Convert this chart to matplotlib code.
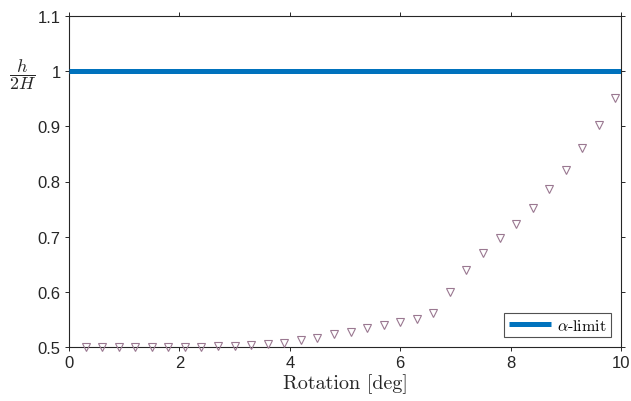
import numpy as np
import matplotlib
matplotlib.use("Agg")
import matplotlib.pyplot as plt

plt.rcParams["font.family"] = ["Liberation Sans", "DejaVu Sans"]
plt.rcParams["mathtext.fontset"] = "cm"

# data
rotation = np.array([0.3, 0.6, 0.9, 1.2, 1.5, 1.8, 2.1, 2.4, 2.7, 3.0, 3.3,
                     3.6, 3.9, 4.2, 4.5, 4.8, 5.1, 5.4, 5.7, 6.0, 6.3, 6.6,
                     6.9, 7.2, 7.5, 7.8, 8.1, 8.4, 8.7, 9.0, 9.3, 9.6, 9.9])
ratio = np.array([0.500, 0.500, 0.500, 0.500, 0.500, 0.500, 0.500, 0.500,
                  0.501, 0.502, 0.503, 0.505, 0.508, 0.512, 0.517, 0.523,
                  0.528, 0.535, 0.540, 0.545, 0.550, 0.562, 0.600, 0.640,
                  0.670, 0.697, 0.723, 0.752, 0.786, 0.820, 0.860, 0.902,
                  0.952])
limit_x = [0, 10]
limit_y = [1.0, 1.0]

xticks = [0, 2, 4, 6, 8, 10]
yticks = [0.5, 0.6, 0.7, 0.8, 0.9, 1.0, 1.1]
yticklabels = ["0.5", "0.6", "0.7", "0.8", "0.9", "1", "1.1"]

C_LINE = "#0072BD"
C_MARK = "#9a7891"
C_AX = "#262626"

fig = plt.figure(figsize=(6.31, 4.02), dpi=100)
ax = fig.add_axes([69 / 631, 54 / 402, 552 / 631, 331 / 402])

ax.plot(limit_x, limit_y, color=C_LINE, linewidth=3.6, label=r"$\alpha$-limit",
        solid_capstyle="butt", zorder=3)
ax.plot(rotation, ratio, linestyle="none", marker="v", markersize=6,
        markerfacecolor="none", markeredgecolor=C_MARK, markeredgewidth=0.8,
        clip_on=False, zorder=4)

ax.set_xlim(0, 10)
ax.set_ylim(0.5, 1.1)
ax.set_xticks(xticks)
ax.set_xticklabels([str(t) for t in xticks])
ax.set_yticks(yticks)
ax.set_yticklabels(yticklabels)

ax.tick_params(direction="out", length=3, width=0.7, colors=C_AX, labelsize=12,
               top=True, right=True, labeltop=False, labelright=False, pad=3)
for s in ax.spines.values():
    s.set_color(C_AX)
    s.set_linewidth(0.8)

ax.set_xlabel("Rotation [deg]", fontfamily="cmr10", fontsize=14.5, color=C_AX,
              labelpad=2)
fig.text(22 / 631, 1 - 75 / 402, r"$\dfrac{h}{2H}$", fontsize=13, ha="center",
         va="center", color=C_AX)

leg = ax.legend(loc="lower right", frameon=True, fancybox=False,
                handlelength=2.6, borderpad=0.3, borderaxespad=0.6,
                handletextpad=0.4, prop={"family": "cmr10", "size": 11.5})
leg.get_frame().set_edgecolor(C_AX)
leg.get_frame().set_linewidth(0.8)

fig.savefig("out.png", dpi=100)
